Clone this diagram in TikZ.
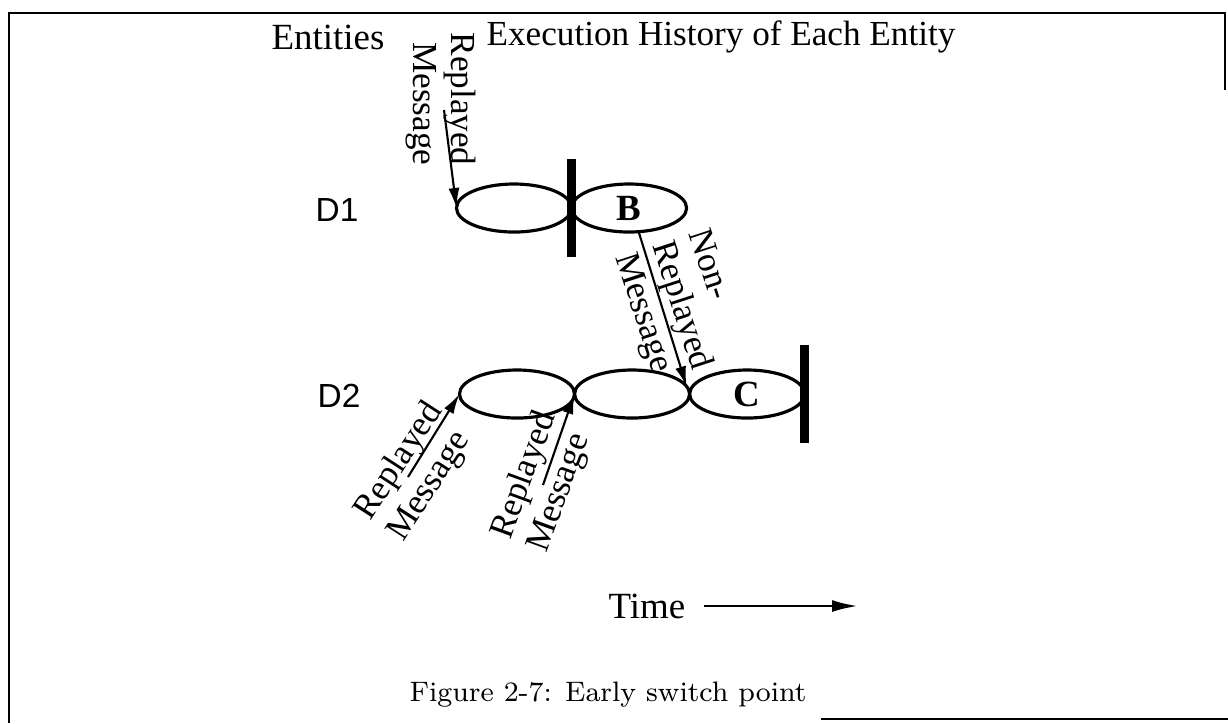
\documentclass[tikz,border=0pt]{standalone}
\usepackage{fontspec}
\usepackage{tikz}
\usetikzlibrary{shapes,arrows.meta,positioning,calc}
\newfontfamily\tms{Liberation Serif}
\newfontfamily\helv{Liberation Sans}
\tikzstyle{run} = [draw, ellipse, line width=0.9pt, minimum width=1.15cm,
    minimum height=0.48cm, inner sep=0pt, outer sep=0pt,
    font=\tms\bfseries\fontsize{10.5}{12}\selectfont]
\tikzstyle{cutbar} = [fill=black, inner sep=0pt, minimum width=0.09cm, minimum height=0.98cm]
\tikzstyle{msg} = [-{Latex[length=2mm,width=1.1mm]}, line width=0.6pt]
\tikzstyle{timearrow} = [-{Latex[length=2.6mm,width=1.2mm]}, line width=0.8pt]
\tikzstyle{lbl} = [font=\tms\fontsize{10}{11}\selectfont, align=left, inner sep=0pt]
\tikzstyle{hdr} = [font=\tms\fontsize{10.5}{12}\selectfont, inner sep=0pt]
\tikzstyle{entname} = [font=\helv\fontsize{9.5}{12}\selectfont, inner sep=0pt]
\tikzstyle{pageframe} = [line width=0.6pt]

\begin{document}
\begin{tikzpicture}[x=0.01cm, y=-0.01cm]
	\useasboundingbox (0,0) rectangle (1228,723);
	\draw[pageframe] (9,723) -- (9,13) -- (1225,13) -- (1225,90);
	\draw[pageframe] (821,719) -- (1228,719);
	
	% headings
	\node[hdr] (entities) at (328,37) {Entities};
	\node[hdr, font=\tms\fontsize{10}{12}\selectfont] (history) at (721,37) {Execution History of Each Entity};
	
	% entity D1
	\node[entname] (d1) at (337,210) {D1};
	\node[run] (e11) at (514,208) {};
	\node[run, right=0 of e11] (B) {B};
	\node[cutbar] (cut1) at (e11.east) {};
	
	% entity D2
	\node[entname] (d2) at (339,396) {D2};
	\node[run] (e21) at (517,394) {};
	\node[run, right=0 of e21] (e22) {};
	\node[run, right=0 of e22] (C) {C};
	\node[cutbar] (cut2) at (C.east) {};
	
	% messages
	\coordinate (m1) at (444,110);
	\coordinate (m2) at (408,477);
	\coordinate (m3) at (543,485);
	\draw[msg] (m1) -- (e11.west);
	\draw[msg] (m2) -- (e21.west);
	\draw[msg] (m3) -- (e21.east);
	\draw[msg] (B.-68) -- (e22.8);
	
	\node[lbl, align=right, rotate=-90] (l1) at (441,99) {Replayed\\Message};
	\node[lbl, rotate=57] (l2) at (416,472) {Replayed\\Message};
	\node[lbl, rotate=70] (l3) at (543,482) {Replayed\\Message};
	\node[lbl, rotate=-72] (l4) at (680,306) {Non-\\Replayed\\Message};
	
	% time axis
	\node[hdr, outer sep=0.19cm] (time) at (647,606) {Time};
	\coordinate (tend) at (858,606);
	\draw[timearrow] (time) -- (tend);
	
	\node[font=\fontsize{8}{10}\selectfont] (caption) at (608,695) {Figure 2-7: Early switch point};
\end{tikzpicture}
\end{document}
